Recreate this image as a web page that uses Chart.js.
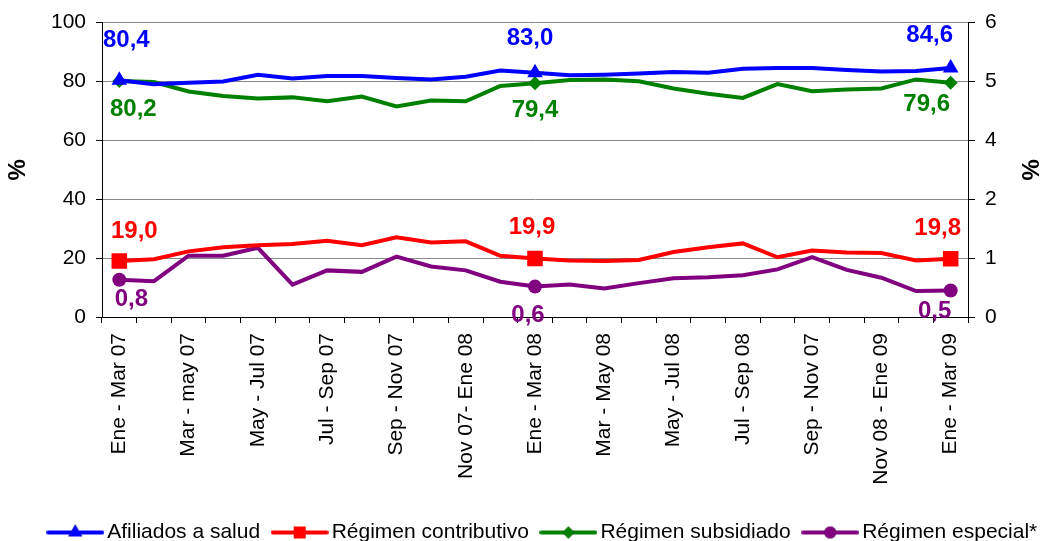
<!DOCTYPE html>
<html>
<head>
<meta charset="utf-8">
<script src="https://cdn.jsdelivr.net/npm/chart.js@4"></script>
<style>
  body { margin: 0; background: #fff; }
</style>
</head>
<body>
<canvas id="graph" width="1047" height="541"></canvas>
<script>
// periods (one every month, label shown every second one)
const periodLabels = ['Ene - Mar 07', 'Mar - may 07', 'May - Jul 07', 'Jul - Sep 07', 'Sep - Nov 07',
  'Nov 07- Ene 08', 'Ene - Mar 08', 'Mar - May 08', 'May - Jul 08', 'Jul - Sep 08', 'Sep - Nov 07',
  'Nov 08 - Ene 09', 'Ene - Mar 09']

const afiliados = [80.4, 79.1, 79.6, 80.0, 82.3, 81.0, 81.9, 81.9, 81.2, 80.7, 81.6, 83.7, 83.0,
  82.1, 82.3, 82.7, 83.2, 83.0, 84.3, 84.6, 84.6, 83.9, 83.4, 83.6, 84.6]
const contributivo = [19.0, 19.6, 22.3, 23.7, 24.4, 24.8, 25.9, 24.4, 27.1, 25.3, 25.7, 20.8, 19.9,
  19.2, 19.0, 19.4, 22.1, 23.7, 25.0, 20.3, 22.6, 21.9, 21.7, 19.2, 19.8]
const subsidiado = [80.2, 79.8, 76.6, 75.1, 74.2, 74.6, 73.3, 74.9, 71.5, 73.5, 73.3, 78.5, 79.4,
  80.5, 80.7, 80.1, 77.6, 75.8, 74.4, 79.1, 76.7, 77.3, 77.6, 80.7, 79.6]
// right axis
const especial = [0.76, 0.73, 1.25, 1.25, 1.41, 0.66, 0.95, 0.92, 1.23, 1.03, 0.95, 0.72, 0.62,
  0.66, 0.58, 0.69, 0.79, 0.81, 0.85, 0.97, 1.22, 0.96, 0.80, 0.53, 0.54]

const leftTicks = [0, 20, 40, 60, 80, 100]
const rightTicks = ['0', '1', '2', '4', '5', '6']
const markedPoints = [0, 12, 24]

const blue = 'rgb(0, 0, 255)'
const red = 'rgb(255, 0, 0)'
const green = 'rgb(0, 128, 0)'
const purple = 'rgb(128, 0, 128)'
const fontFamily = '"Liberation Sans", Arial, sans-serif'

// x labels: blank for the in-between months
const categories = []
periodLabels.forEach((p, i) => {
    categories.push(p)
    if (i < periodLabels.length - 1) categories.push('')
})

// r = marker radius on the chart, lr = marker radius in the legend
const series = [
    {label: 'Afiliados a salud', data: afiliados, color: blue, style: 'triangle', r: 9, lr: 8, axis: 'y'},
    {label: 'Régimen contributivo', data: contributivo, color: red, style: 'rect', r: 11, lr: 8.5, axis: 'y'},
    {label: 'Régimen subsidiado', data: subsidiado, color: green, style: 'rectRot', r: 7, lr: 6, axis: 'y'},
    {label: 'Régimen especial*', data: especial, color: purple, style: 'circle', r: 7, lr: 6, axis: 'y1'}
]

// legend icon: line with marker in the middle
function legendIcon(s) {
    const c = document.createElement('canvas')
    c.width = 58
    c.height = 22
    const g = c.getContext('2d')
    g.strokeStyle = s.color
    g.lineWidth = 4
    g.lineCap = 'round'
    g.beginPath()
    g.moveTo(2, 11)
    g.lineTo(56, 11)
    g.stroke()
    Chart.helpers.drawPoint(g, {pointStyle: s.style, radius: s.lr, rotation: 0, borderWidth: 0}, 29, 11)
    g.fillStyle = s.color
    g.fill()
    return c
}
const icons = series.map(legendIcon)

// value labels at the marked points: [dx, dy] per series and marked point
const labelOffsets = [
    [[7, -40], [-5, -34], [-21, -33]],
    [[15, -30], [-3, -31], [-13, -30]],
    [[14, 28], [0, 27], [-24, 22]],
    [[12, 20], [-7, 29], [-16, 21]]
]

const valueLabels = {
    id: 'valueLabels',
    afterDatasetsDraw(chart) {
        const ctx = chart.ctx
        ctx.save()
        ctx.font = 'bold 24px ' + fontFamily
        ctx.textAlign = 'center'
        ctx.textBaseline = 'middle'
        series.forEach((s, di) => {
            const meta = chart.getDatasetMeta(di)
            markedPoints.forEach((idx, k) => {
                const pt = meta.data[idx]
                const [dx, dy] = labelOffsets[di][k]
                ctx.fillStyle = s.color
                ctx.fillText(s.data[idx].toFixed(1).replace('.', ','), pt.x + dx, pt.y + dy)
            })
        })
        ctx.restore()
    }
}

// nudge the legend a bit right and down, like the original
const legendShift = {
    id: 'legendShift',
    afterLayout(chart) {
        const lg = chart.legend
        lg.left += 22
        lg.right += 22
        lg.top += 12
        lg.bottom += 12
    }
}

new Chart(document.getElementById('graph'), {
    type: 'line',
    data: {
        labels: categories,
        datasets: series.map(s => ({
            label: s.label,
            data: s.data,
            yAxisID: s.axis,
            borderColor: s.color,
            backgroundColor: s.color,
            borderWidth: 4,
            pointStyle: s.style,
            pointRadius: c => markedPoints.includes(c.dataIndex) ? s.r : 0,
            pointBorderWidth: 0,
            tension: 0
        }))
    },
    options: {
        responsive: false,
        animation: false,
        layout: {padding: {top: 21, left: 0, right: 0, bottom: 0}},
        plugins: {
            tooltip: {enabled: false},
            legend: {
                position: 'bottom',
                labels: {
                    usePointStyle: true,
                    pointStyleWidth: 43,
                    padding: 18,
                    color: '#000',
                    font: {size: 21, family: fontFamily},
                    generateLabels: chart => Chart.defaults.plugins.legend.labels.generateLabels(chart)
                        .map((l, i) => ({...l, pointStyle: icons[i]}))
                }
            }
        },
        scales: {
            x: {
                offset: true,
                grid: {offset: true, drawOnChartArea: false, tickColor: '#000', tickLength: 6},
                border: {color: '#000', width: 1},
                ticks: {
                    autoSkip: false, maxRotation: 90, minRotation: 90, padding: 10,
                    color: '#000', font: {size: 21, family: fontFamily}
                },
                afterFit: s => { s.height = 175 }
            },
            y: {
                position: 'left',
                min: 0, max: 100,
                afterBuildTicks: s => { s.ticks = leftTicks.map(v => ({value: v})) },
                grid: {color: '#888', tickColor: '#000', tickLength: 6},
                border: {color: '#000', width: 1},
                ticks: {padding: 10, color: '#000', font: {size: 21, family: fontFamily}},
                title: {display: true, text: '%', color: '#000', font: {size: 24, weight: 'bold', family: fontFamily}},
                afterFit: s => { s.width = 102 }
            },
            y1: {
                position: 'right',
                min: 0, max: 6,
                ticks: {
                    stepSize: 1.2, padding: 10, color: '#000',
                    font: {size: 21, family: fontFamily},
                    callback: (v, i) => rightTicks[i]
                },
                grid: {drawOnChartArea: false, tickColor: '#000', tickLength: 7},
                border: {color: '#000', width: 1},
                title: {display: true, text: '%', color: '#000', font: {size: 24, weight: 'bold', family: fontFamily}},
                afterFit: s => { s.width = 79 }
            }
        }
    },
    plugins: [valueLabels, legendShift]
});
</script>
</body>
</html>
